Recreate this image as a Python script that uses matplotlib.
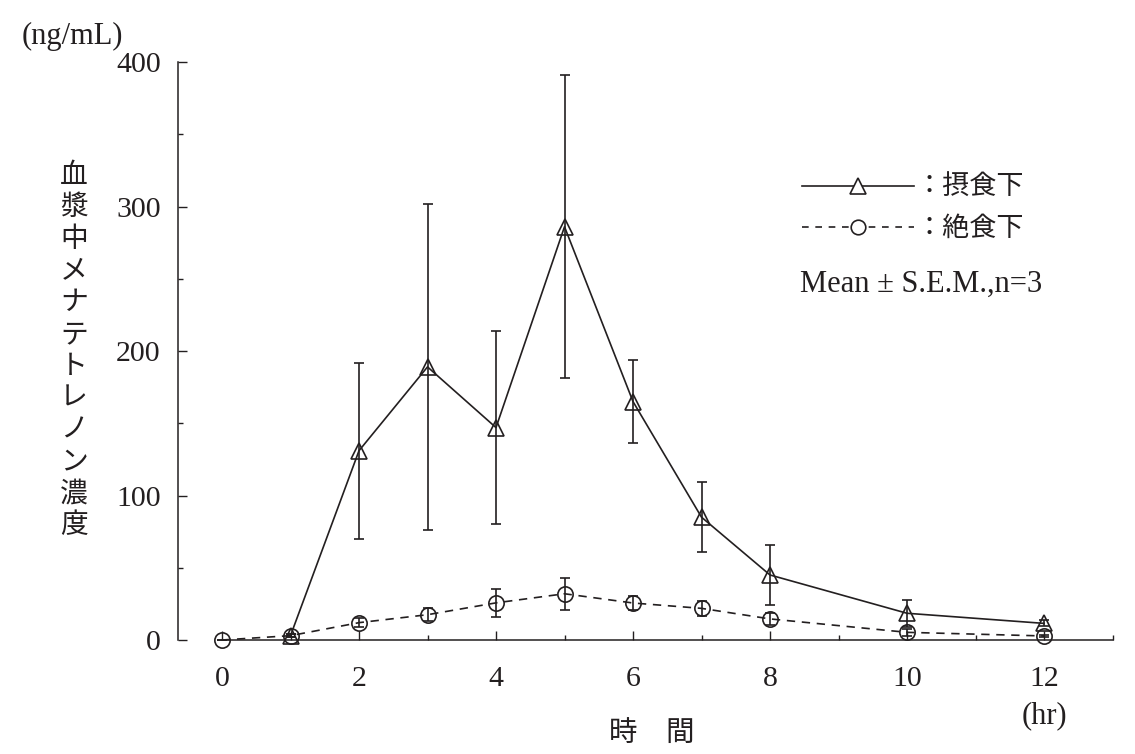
import matplotlib
matplotlib.use('Agg')
import matplotlib.pyplot as plt
from matplotlib.lines import Line2D
from matplotlib.ticker import MultipleLocator, FixedLocator

# ---- data ----
time_fed = [1, 2, 3, 4, 5, 6, 7, 8, 10, 12]
fed_mean = [3, 131, 189, 147, 286, 165, 85, 45, 18.5, 11.5]
fed_sem = [1, 61, 113, 67, 105, 29, 24, 21, 9.5, 2]

time_fast = [0, 1, 2, 3, 4, 5, 6, 7, 8, 10, 12]
fast_mean = [0, 3, 12, 17.5, 25.7, 32, 25.6, 21.9, 14.6, 5.3, 2.8]
fast_sem = [0, 1, 3, 4.4, 9.6, 11.2, 4.8, 5.1, 4.3, 2.5, 1]

xticks = [0, 2, 4, 6, 8, 10, 12]
xminor = [1, 3, 5, 7, 9, 11, 13]
yticks = [0, 100, 200, 300, 400]
ylabel_text = '血漿中メナテトレノン濃度'
xlabel_text = '時\u3000間'
legend_labels = ['：摂食下', '：絶食下']
note_text = 'Mean ± S.E.M.,n=3'
yunit = '(ng/mL)'
xunit = '(hr)'

# ---- style ----
W, H = 1135, 754
C = '#231f20'
SERIF = ['Liberation Serif', 'DejaVu Serif']
CJK = ['Noto Sans CJK JP', 'DejaVu Sans']
LW = 1.2

fig = plt.figure(figsize=(W / 100, H / 100), dpi=100)

# axes placed so that x=0 -> 222px, 68.5 px/unit ; y=0 -> 640px, 1.445 px/unit
x0, xs = 222.0, 68.5
y0, ys = 640.0, 1.445
xl, xr = -0.7, 13.1
yb, yt = -4.0, 405.0
left_px = x0 + xl * xs
right_px = x0 + xr * xs
bot_px = y0 - yb * ys
top_px = y0 - yt * ys
ax = fig.add_axes([left_px / W, (H - bot_px) / H,
                   (right_px - left_px) / W, (bot_px - top_px) / H])
ax.set_xlim(xl, xr)
ax.set_ylim(yb, yt)
ax.patch.set_alpha(0)

for s in ('top', 'right'):
    ax.spines[s].set_visible(False)
ax.spines['left'].set_position(('data', -0.642))
ax.spines['left'].set_bounds(0, 400)
ax.spines['bottom'].set_position(('data', 0))
ax.spines['bottom'].set_bounds(0, 13)
for s in ('left', 'bottom'):
    ax.spines[s].set_color(C)
    ax.spines[s].set_linewidth(1.1)

ax.xaxis.set_major_locator(FixedLocator(xticks))
ax.xaxis.set_minor_locator(FixedLocator(xminor))
ax.yaxis.set_major_locator(FixedLocator(yticks))
ax.yaxis.set_minor_locator(MultipleLocator(50))
ax.set_xticklabels([str(v) for v in xticks])
ax.set_yticklabels([str(v) for v in yticks])
ax.tick_params(which='major', direction='in', length=6.5, width=1.0, color=C,
               labelsize=21.5, labelcolor=C)
ax.tick_params(which='minor', direction='in', length=3.6, width=1.0, color=C)
ax.tick_params(axis='x', which='major', pad=19)
ax.tick_params(axis='y', which='major', pad=12.5)
for lab in ax.get_xticklabels() + ax.get_yticklabels():
    lab.set_family(SERIF)

# ---- series ----
ax.errorbar(time_fed, fed_mean, yerr=fed_sem, color=C, lw=LW, ls='-',
            marker='^', ms=12, mfc='none', mec=C, mew=LW,
            ecolor=C, elinewidth=LW, capsize=3.4, capthick=LW,
            clip_on=False, zorder=3)
ax.errorbar(time_fast, fast_mean, yerr=fast_sem, color=C, lw=LW,
            ls=(0, (5, 4)), marker='o', ms=11, mfc='none', mec=C, mew=LW,
            ecolor=C, elinewidth=LW, capsize=3.4, capthick=LW,
            clip_on=False, zorder=3)

# ---- legend ----
handles = [
    Line2D([], [], color=C, lw=LW, ls='-', marker='^', ms=11, mfc='white', mew=LW),
    Line2D([], [], color=C, lw=LW, ls=(0, (4, 4)), marker='o', ms=10.5, mfc='white', mew=LW),
]
leg = ax.legend(handles, legend_labels, loc='upper left',
                bbox_to_anchor=(802 / W, (H - 174) / H),
                bbox_transform=fig.transFigure, frameon=False,
                numpoints=1, handlelength=4.15, handletextpad=0.05,
                borderpad=0, borderaxespad=0, labelspacing=0.52,
                prop={'family': CJK, 'size': 19.5})
for t in leg.get_texts():
    t.set_color(C)

fig.text(800 / W, (H - 284) / H, note_text, family=SERIF, size=22,
         color=C, ha='left', va='center')

# ---- axis texts ----
fig.text(72 / W, (H - 36) / H, yunit, family=SERIF, size=22, color=C,
         ha='center', va='center')
fig.text(1044 / W, (H - 716) / H, xunit, family=SERIF, size=22, color=C,
         ha='center', va='center')
fig.text(652 / W, (H - 733) / H, xlabel_text, family=CJK, size=20.5, color=C,
         ha='center', va='center')

n = len(ylabel_text)
top_c, bot_c = 175.0, 525.0
step = (bot_c - top_c) / (n - 1)
for i, ch in enumerate(ylabel_text):
    fig.text(74 / W, (H - (top_c + i * step)) / H, ch, family=CJK, size=20,
             color=C, ha='center', va='center')

fig.savefig('out.png', dpi=100)
